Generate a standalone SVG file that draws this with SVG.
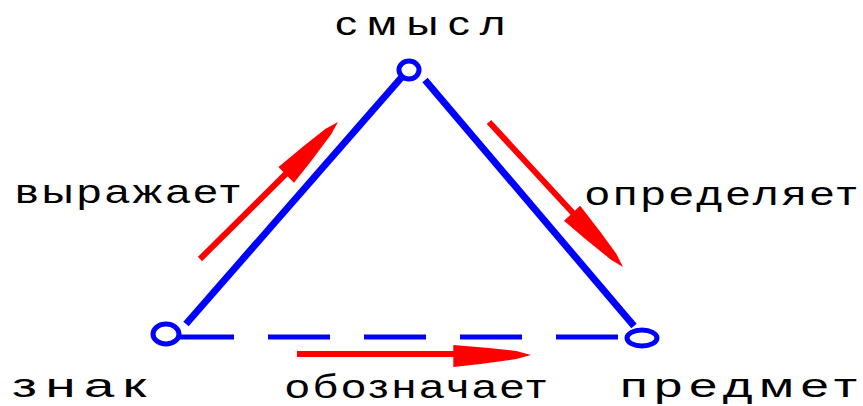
<svg xmlns="http://www.w3.org/2000/svg" xmlns:xlink="http://www.w3.org/1999/xlink" width="863" height="406" viewBox="0 0 863 406">
<style>
.edge{stroke:#0000FF;stroke-width:7;fill:none;stroke-linecap:butt}
.dash{stroke:#0000FF;stroke-width:5;fill:none;stroke-dasharray:62 34}
.node{stroke:#0000FF;stroke-width:5;fill:#FFFFFF}
.shaft{stroke:#FF0000;stroke-width:6;fill:none}
.head{fill:#FF0000}
.t{font-family:"Liberation Sans",Arial,sans-serif;font-size:34px;fill:#000000}
</style>
<defs>
<path id="ah" d="M0,0 L-14,-4 L-40,-7 L-74,-10 L-74,12 L-48,9 L-14,4 Z"/>
</defs>
<rect width="863" height="406" fill="#FFFFFF"/>
<g id="connectors">
<line class="edge" x1="186" y1="324" x2="401" y2="78"/>
<line class="edge" x1="425" y1="80" x2="634" y2="326"/>
<line class="dash" x1="172" y1="337" x2="624" y2="337"/>
<g id="arrow-vyrazhaet">
<line class="shaft" x1="200" y1="259" x2="322" y2="138"/>
<use class="head" xlink:href="#ah" transform="translate(338,122) rotate(-44.8)"/>
<text class="t" transform="translate(15,203) scale(1.3,1)" x="0" y="0" textLength="173" lengthAdjust="spacing">выражает</text>
</g>
<g id="arrow-opredelyaet">
<line class="shaft" x1="489" y1="122" x2="608" y2="251"/>
<use class="head" xlink:href="#ah" transform="translate(623,267) rotate(47.3)"/>
<text class="t" transform="translate(585,205) scale(1.3,1)" x="0" y="0" textLength="209" lengthAdjust="spacing">определяет</text>
</g>
<g id="arrow-oboznachaet">
<line class="shaft" x1="297" y1="354" x2="515" y2="354"/>
<use class="head" xlink:href="#ah" transform="translate(531,355) scale(1.05,1)"/>
<text class="t" transform="translate(285,398) scale(1.3,1)" x="0" y="0" textLength="201" lengthAdjust="spacing">обозначает</text>
</g>
</g>
<g id="node-smysl">
<ellipse class="node" cx="409" cy="70" rx="10" ry="9"/>
<text class="t" transform="translate(335,35) scale(1.3,1)" x="0" y="0" textLength="131" lengthAdjust="spacing">смысл</text>
</g>
<g id="node-znak">
<ellipse class="node" cx="166" cy="334" rx="13" ry="10"/>
<text class="t" transform="translate(12,397) scale(1.6,1)" x="0" y="0" textLength="84" lengthAdjust="spacing">знак</text>
</g>
<g id="node-predmet">
<ellipse class="node" cx="642" cy="338" rx="15" ry="8"/>
<text class="t" transform="translate(620,397) scale(1.5,1)" x="0" y="0" textLength="158" lengthAdjust="spacing">предмет</text>
</g>
</svg>
